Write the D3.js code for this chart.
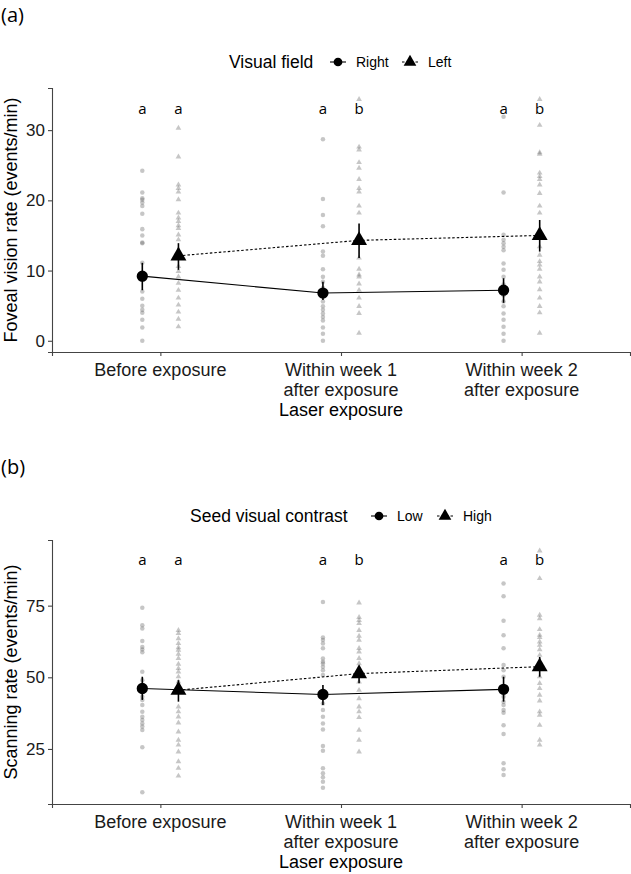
<!DOCTYPE html>
<html>
<head>
<meta charset="utf-8">
<script src="https://cdn.jsdelivr.net/npm/d3@7"></script>
<style>
  body { margin: 0; background: #fff; }
  text { font-family: "Liberation Sans", Arial, sans-serif; }
  .cal { font-family: "Open Sans", "Noto Sans", sans-serif; }
</style>
</head>
<body>
<svg id="chart" width="631" height="874"></svg>
<script>
// categories on the x axis (multi-line labels)
const categories = ['before', 'week1', 'week2'];
const categoryLabels = [
    ['Before exposure'],
    ['Within week 1', 'after exposure'],
    ['Within week 2', 'after exposure']
];

// ---- panel (a): foveal vision rate ----
const aGroups     = ['Right', 'Left'];
const aMean       = { Right: [9.2, 6.8, 7.2],   Left: [12.1, 14.3, 15.0] };
const aLow        = { Right: [7.2, 5.8, 5.4],   Left: [10.1, 11.8, 12.7] };
const aHigh       = { Right: [11.1, 8.4, 8.9],  Left: [13.9, 16.7, 17.2] };
const aLetters    = { Right: ['a', 'a', 'a'],   Left: ['a', 'b', 'b'] };
const aRaw = {
    Right: [
        [24.2, 21.1, 20.3, 20.1, 19.7, 19.2, 18.1, 15.9, 15.0, 14.0, 13.9, 11.1, 8.7, 7.0, 6.0, 5.0, 4.4, 4.0, 3.0, 1.9, 0],
        [28.7, 20.2, 17.9, 16.3, 12.7, 12.1, 10.2, 9.1, 8.4, 7.5, 5.6, 4.9, 4.4, 3.9, 3.4, 2.9, 1.9, 1.0, 0],
        [31.9, 21.1, 15.1, 14.4, 13.9, 13.4, 12.9, 11.0, 10.1, 9.1, 8.0, 6.5, 5.6, 4.9, 3.9, 3.0, 2.0, 1.0, 0]
    ],
    Left: [
        [30.3, 26.2, 22.2, 21.7, 21.2, 20.1, 18.2, 17.5, 17.0, 16.4, 16.0, 15.1, 14.4, 10.6, 9.9, 9.1, 8.2, 7.2, 6.1, 5.1, 4.1, 3.1, 2.0],
        [34.4, 27.6, 27.2, 25.4, 24.6, 23.0, 21.7, 21.2, 19.2, 18.2, 11.8, 10.2, 9.4, 9.1, 8.1, 7.2, 6.1, 4.9, 3.9, 1.1],
        [34.4, 30.7, 26.8, 26.6, 23.9, 23.4, 23.0, 22.2, 21.0, 19.2, 18.2, 13.4, 12.2, 11.3, 10.8, 10.2, 9.1, 8.4, 7.3, 6.1, 4.9, 4.0, 1.1]
    ]
};
const aTicks = [0, 10, 20, 30];

// ---- panel (b): scanning rate ----
const bGroups     = ['Low', 'High'];
const bMean       = { Low: [46.1, 44.0, 45.8],  High: [45.5, 51.3, 53.7] };
const bLow        = { Low: [42.1, 40.3, 41.5],  High: [41.5, 47.9, 50.2] };
const bHigh       = { Low: [50.2, 47.3, 50.2],  High: [49.0, 53.7, 57.1] };
const bLetters    = { Low: ['a', 'a', 'a'],     High: ['a', 'b', 'b'] };
const bRaw = {
    Low: [
        [74.3, 68.2, 67.0, 62.7, 60.6, 59.7, 58.7, 51.9, 49.0, 43.2, 42.1, 40.3, 38.0, 36.2, 35.1, 33.9, 32.8, 31.6, 25.6, 9.9],
        [76.3, 63.9, 63.0, 61.8, 60.1, 56.6, 55.4, 54.8, 53.7, 52.5, 50.8, 40.9, 38.6, 36.2, 33.9, 31.8, 26.0, 24.4, 18.3, 16.5, 15.1, 13.6, 11.5],
        [82.7, 78.3, 69.7, 64.7, 60.1, 54.3, 52.5, 50.2, 43.2, 41.5, 40.3, 38.6, 37.6, 33.3, 30.2, 20.0, 17.9, 15.9]
    ],
    High: [
        [66.4, 65.3, 63.5, 61.8, 60.4, 59.5, 58.1, 56.6, 54.6, 53.1, 51.9, 50.2, 48.4, 39.7, 38.0, 36.2, 34.1, 31.0, 28.1, 26.4, 24.0, 20.6, 18.3, 15.6],
        [76.0, 70.9, 69.9, 68.8, 66.4, 64.4, 63.0, 60.1, 58.9, 56.6, 54.8, 48.4, 45.5, 42.6, 39.7, 38.0, 36.0, 31.6, 28.1, 24.0],
        [94.1, 84.5, 71.7, 70.5, 66.7, 64.7, 63.9, 62.4, 61.2, 59.7, 57.7, 50.2, 47.9, 46.1, 43.8, 41.8, 38.0, 36.8, 33.3, 28.1, 26.4]
    ]
};
const bTicks = [25, 50, 75];

const svg = d3.select('#chart');

const LEFT   = 52;
const RIGHT  = 630;
const DODGE  = 0.1;   // fraction of a category step
const dashes = ['none', '2.5,2'];
const shapes = [d3.symbolCircle, d3.symbolTriangle];

/**
 * Draws one panel: raw points, mean lines, error bars, means, letters, axes, legend.
 */
function drawPanel (opt) {
    const g = svg.append('g');

    const x = d3.scalePoint()
        .domain(categories)
        .range([LEFT, RIGHT])
        .padding(0.6);
    const step = x.step();

    const y = d3.scaleLinear()
        .domain(opt.domain)
        .range([opt.bottom, opt.top]);

    const xPos = (gi, ci) => x(categories[ci]) + (gi === 0 ? -1 : 1) * DODGE * step;

    // raw observations
    opt.groups.forEach((grp, gi) => {
        opt.raw[grp].forEach((vals, ci) => {
            g.selectAll(null)
                .data(vals)
                .join('path')
                .attr('d', d3.symbol().type(shapes[gi]).size(gi === 0 ? 16 : 14))
                .attr('transform', d => `translate(${xPos(gi, ci)},${y(d)})`)
                .attr('fill', '#6a6a6a')
                .attr('fill-opacity', 0.38);
        });
    });

    // mean lines
    opt.groups.forEach((grp, gi) => {
        const line = d3.line()
            .x((d, ci) => xPos(gi, ci))
            .y(d => y(d));
        g.append('path')
            .datum(opt.mean[grp])
            .attr('d', line)
            .attr('fill', 'none')
            .attr('stroke', '#000')
            .attr('stroke-width', 1.1)
            .attr('stroke-dasharray', dashes[gi]);
    });

    // error bars
    opt.groups.forEach((grp, gi) => {
        g.selectAll(null)
            .data(opt.mean[grp])
            .join('line')
            .attr('x1', (d, ci) => xPos(gi, ci))
            .attr('x2', (d, ci) => xPos(gi, ci))
            .attr('y1', (d, ci) => y(opt.low[grp][ci]))
            .attr('y2', (d, ci) => y(opt.high[grp][ci]))
            .attr('stroke', '#000')
            .attr('stroke-width', 1.6);
    });

    // means
    opt.groups.forEach((grp, gi) => {
        g.selectAll(null)
            .data(opt.mean[grp])
            .join('path')
            .attr('d', d3.symbol().type(shapes[gi]).size(gi === 0 ? 100 : 110))
            .attr('transform', (d, ci) => `translate(${xPos(gi, ci)},${y(d)})`)
            .attr('fill', '#000');
    });

    // significance letters
    opt.groups.forEach((grp, gi) => {
        g.selectAll(null)
            .data(opt.letters[grp])
            .join('text')
            .attr('class', 'cal')
            .attr('x', (d, ci) => xPos(gi, ci))
            .attr('y', y(opt.letterY))
            .attr('dy', '0.35em')
            .attr('text-anchor', 'middle')
            .attr('font-size', 15)
            .text(d => d);
    });

    // y axis
    const yAxis = g.append('g')
        .attr('transform', `translate(${LEFT},0)`)
        .call(d3.axisLeft(y).tickValues(opt.ticks).tickSize(4).tickPadding(3));
    yAxis.select('.domain').attr('stroke', '#444').attr('stroke-width', 1.1);
    yAxis.selectAll('.tick line').attr('stroke', '#444').attr('stroke-width', 1.1);
    yAxis.selectAll('.tick text')
        .attr('font-size', 17)
        .attr('fill', '#1a1a1a')
        .style('font-family', '"Liberation Sans", Arial, sans-serif');

    // x axis
    const xAxis = g.append('g')
        .attr('transform', `translate(0,${opt.bottom})`)
        .call(d3.axisBottom(x).tickSize(4).tickFormat(''));
    xAxis.select('.domain').attr('stroke', '#444').attr('stroke-width', 1.1);
    xAxis.selectAll('.tick line').attr('stroke', '#444').attr('stroke-width', 1.1);

    categories.forEach((c, ci) => {
        const t = g.append('text')
            .attr('x', x(c))
            .attr('y', opt.bottom + 24)
            .attr('text-anchor', 'middle')
            .attr('font-size', 18)
            .attr('fill', '#1a1a1a');
        categoryLabels[ci].forEach((ln, li) => {
            t.append('tspan')
                .attr('x', x(c))
                .attr('dy', li === 0 ? 0 : 20)
                .text(ln);
        });
    });

    // x axis title
    g.append('text')
        .attr('x', (LEFT + RIGHT) / 2)
        .attr('y', opt.bottom + 64)
        .attr('text-anchor', 'middle')
        .attr('font-size', 18)
        .text('Laser exposure');

    // y axis title
    g.append('text')
        .attr('transform', `translate(17,${(opt.top + opt.bottom) / 2}) rotate(-90)`)
        .attr('text-anchor', 'middle')
        .attr('font-size', 18)
        .text(opt.yTitle);

    // panel tag
    g.append('text')
        .attr('class', 'cal')
        .attr('x', 1)
        .attr('y', opt.tagY)
        .attr('font-size', 20)
        .text(opt.tag);

    // legend
    const leg = g.append('g');
    leg.append('text')
        .attr('x', opt.legX)
        .attr('y', opt.legY)
        .attr('dy', '0.35em')
        .attr('font-size', 17.5)
        .text(opt.legTitle);
    opt.groups.forEach((grp, gi) => {
        const kx = opt.keyX[gi];
        leg.append('line')
            .attr('x1', kx - 8).attr('x2', kx + 8)
            .attr('y1', opt.legY).attr('y2', opt.legY)
            .attr('stroke', '#000')
            .attr('stroke-width', 1.1)
            .attr('stroke-dasharray', dashes[gi]);
        leg.append('path')
            .attr('d', d3.symbol().type(shapes[gi]).size(gi === 0 ? 60 : 70))
            .attr('transform', `translate(${kx},${opt.legY})`)
            .attr('fill', '#000');
        leg.append('text')
            .attr('x', kx + 18)
            .attr('y', opt.legY)
            .attr('dy', '0.35em')
            .attr('font-size', 14)
            .text(grp);
    });
}

drawPanel({
    top: 88, bottom: 352, domain: [-1.6, 36],
    groups: aGroups, mean: aMean, low: aLow, high: aHigh, raw: aRaw,
    letters: aLetters, letterY: 33.1, ticks: aTicks,
    yTitle: 'Foveal vision rate (events/min)',
    tag: '(a)', tagY: 22,
    legTitle: 'Visual field', legX: 229, legY: 62, keyX: [338, 410]
});

drawPanel({
    top: 540, bottom: 804, domain: [5.8, 97.9],
    groups: bGroups, mean: bMean, low: bLow, high: bHigh, raw: bRaw,
    letters: bLetters, letterY: 91.1, ticks: bTicks,
    yTitle: 'Scanning rate (events/min)',
    tag: '(b)', tagY: 474,
    legTitle: 'Seed visual contrast', legX: 190, legY: 516, keyX: [379, 445]
});
</script>
</body>
</html>
